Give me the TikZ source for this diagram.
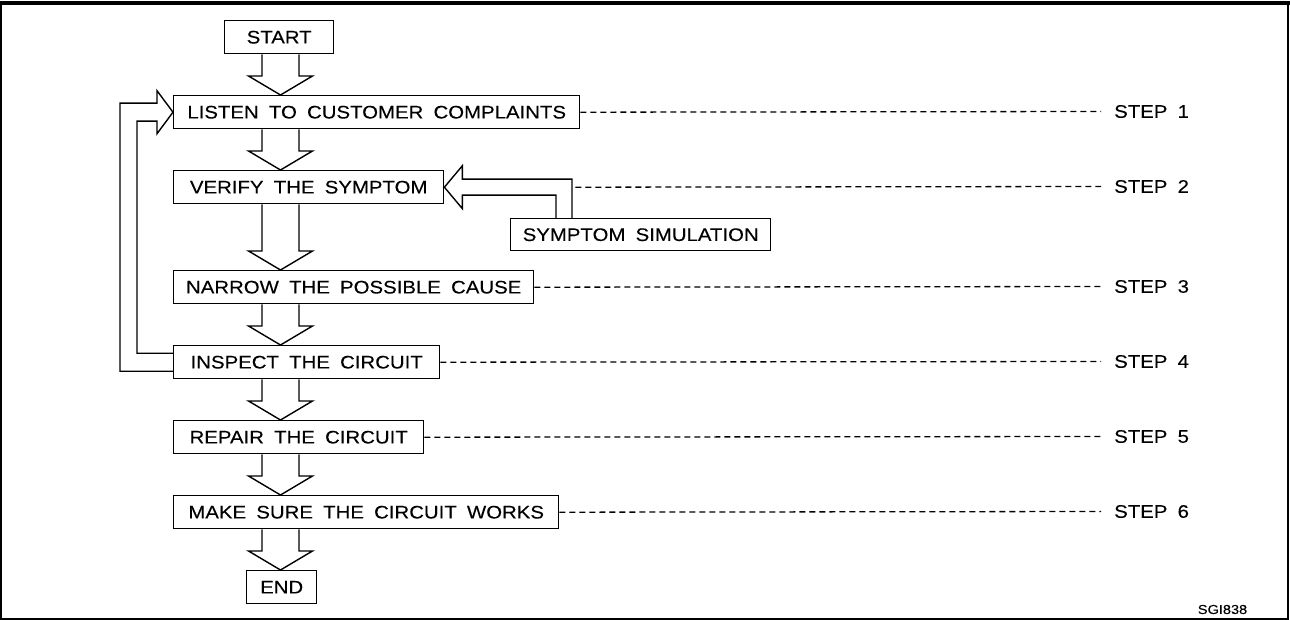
\documentclass[tikz,border=0pt]{standalone}
\usepackage{fontspec}
\setmainfont{Liberation Sans}[FakeStretch=1.12, WordSpace=1.8, FakeBold=0.15]
\usetikzlibrary{calc}
\begin{document}
\begin{tikzpicture}[x=1pt,y=-1pt,
  box/.style={draw, line width=1.4pt, minimum width=#1, minimum height=33pt, inner sep=0pt,
    font=\fontsize{18.2}{20}\selectfont, anchor=north west},
  blk/.style={draw, line width=1.4pt, fill=white, line join=miter},
  ln/.style={draw, line width=1.4pt, line join=miter},
  dsh/.style={draw, line width=1.3pt, dash pattern=on 6pt off 4pt},
  steplabel/.style={anchor=west, inner xsep=13pt, inner ysep=0pt, font=\fontsize{18.2}{20}\selectfont}]
\useasboundingbox (0,0) rectangle (1290,620);
\draw[line width=2pt] (1,3.5) rectangle (1288,618.5);
\draw[line width=3.5pt] (0,3) -- (1290,3);

\coordinate (ax) at (280.5,0);

\node[box=109] (start) at (224,20) {START};
\node[box=406] (listen) at (173,95) {LISTEN TO CUSTOMER COMPLAINTS};
\node[box=270] (verify) at (173,170) {VERIFY THE SYMPTOM};
\node[box=360] (narrow) at (173,270) {NARROW THE POSSIBLE CAUSE};
\node[box=266] (inspect) at (173,345) {INSPECT THE CIRCUIT};
\node[box=250] (repair) at (173,420) {REPAIR THE CIRCUIT};
\node[box=385] (make) at (173,495) {MAKE SURE THE CIRCUIT WORKS};
\node[box=70] (endn) at (246,570) {END};
\node[box=260, minimum height=32pt] (sim) at (510,218) {SYMPTOM SIMULATION};

\newcommand\blkarrow[2]{%
  \draw[blk] ($(#1.south -| ax)+(-18.5,0)$) -- ($(#2.north -| ax)+(-18.5,-19)$)
    -- ($(#2.north -| ax)+(-32,-19)$) -- (#2.north -| ax)
    -- ($(#2.north -| ax)+(32,-19)$) -- ($(#2.north -| ax)+(18.5,-19)$)
    -- ($(#1.south -| ax)+(18.5,0)$);}
\blkarrow{start}{listen}
\blkarrow{listen}{verify}
\blkarrow{verify}{narrow}
\blkarrow{narrow}{inspect}
\blkarrow{inspect}{repair}
\blkarrow{repair}{make}
\blkarrow{make}{endn}

% feedback loop
\draw[ln] ($(inspect.west)+(0,9)$) -- ($(inspect.west)+(-53,9)$)
  -- ($(listen.west)+(-53,-9)$) -- ($(listen.west)+(-16,-9)$)
  -- ($(listen.west)+(-16,-21.5)$) -- (listen.west)
  -- ($(listen.west)+(-16,21.5)$) -- ($(listen.west)+(-16,9)$)
  -- ($(listen.west)+(-36,9)$) -- ($(inspect.west)+(-36,-9)$)
  -- ($(inspect.west)+(0,-9)$);

% symptom simulation arrow
\draw[ln] ($(sim.north west)+(46,0)$) |- ($(verify.east)+(18,8)$) -- ++(0,13.5)
  -- (verify.east) -- ($(verify.east)+(18,-21.5)$) -- ++(0,13.5)
  -| ($(sim.north west)+(62,0)$);

% step labels
\node[steplabel] (s1) at (1101,111.5) {STEP 1};
\node[steplabel] (s2) at (1101,186.5) {STEP 2};
\node[steplabel] (s3) at (1101,286.5) {STEP 3};
\node[steplabel] (s4) at (1101,361.5) {STEP 4};
\node[steplabel] (s5) at (1101,436.5) {STEP 5};
\node[steplabel] (s6) at (1101,511.5) {STEP 6};

\draw[dsh] (listen.east) -- (s1.west);
\draw[dsh] ($(verify.east)+(131,0)$) coordinate (v2) -- (s2.west);
\draw[dsh] (narrow.east) -- (s3.west);
\draw[dsh] (inspect.east) -- (s4.west);
\draw[dsh] (repair.east) -- (s5.west);
\draw[dsh] (make.east) -- (s6.west);

\node[font=\fontsize{13}{15}\selectfont, inner sep=0pt] (code) at (1222.5,609.5) {SGI838};
\end{tikzpicture}
\end{document}
